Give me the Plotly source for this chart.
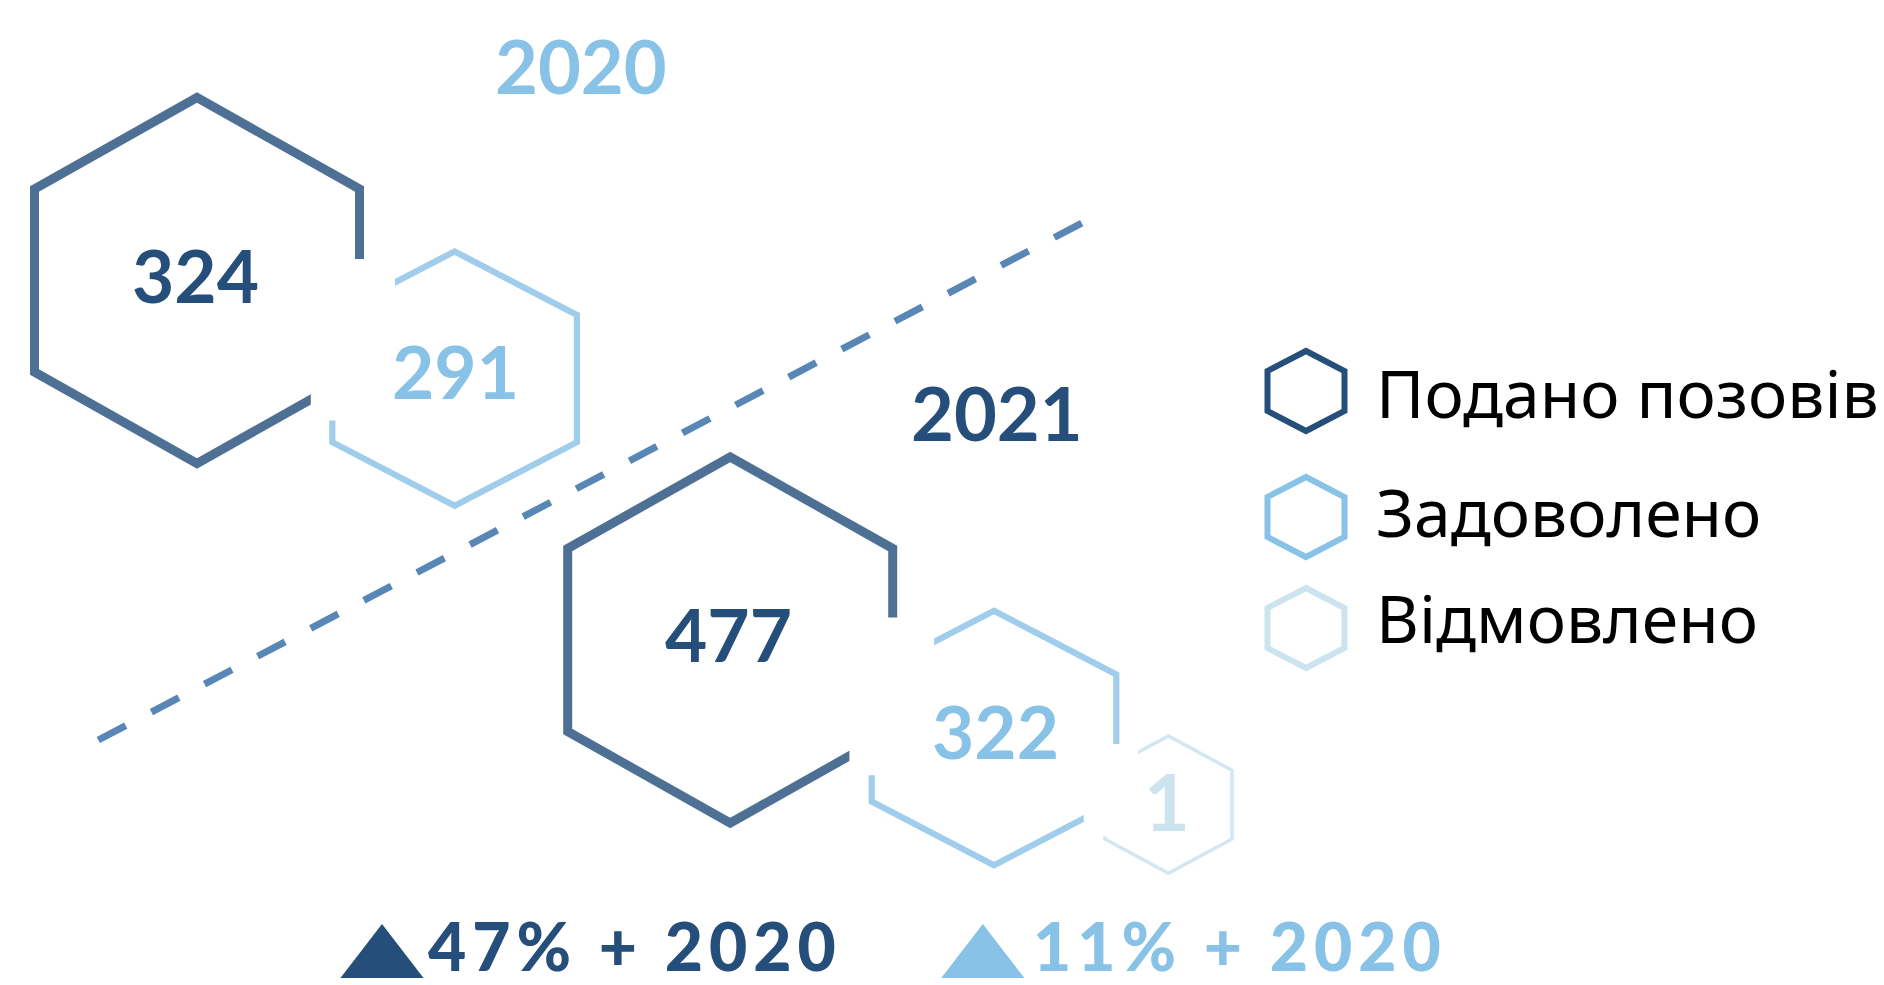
import plotly.graph_objects as go

# ---------------- data ----------------
years = ["2020", "2021"]
filed = [324, 477]            # Подано позовів
satisfied = [291, 322]        # Задоволено
refused = [None, 1]           # Відмовлено (no hexagon for 2020)
growth_pct = [47, 11]         # growth vs base year: filed, satisfied
growth_base = "2020"
legend_labels = ["Подано позовів", "Задоволено", "Відмовлено"]

# ---------------- style / layout ----------------
W, H = 1884, 985
C_DARK = "#264e7a"
C_DARK_LINE = "#4f7095"
C_MID = "#88c2e6"
C_MID_LINE = "#9fcdeb"
C_LIGHT = "#cce3f0"
C_LIGHT_LINE = "#d3e6f3"
C_DASH = "#5886b5"
NUM_FONT = "Lato"
LEG_FONT = "Noto Sans"

# hexagon geometry: (half-height, half-width, stroke width)
HEX_BIG = (183.0, 162.5, 9)
HEX_MID = (127.2, 122.3, 6.2)
HEX_SMALL = (68.7, 63.6, 3.5)
HEX_LEG = (40.0, 38.5, 6)

big_centres = [(197.0, 280.5), (730.2, 640.0)]
mid_centres = [(454.6, 378.6), (994.0, 738.0)]
small_centres = [None, (1168.4, 804.6)]
# white gaps where the hexagons touch: (x0, x1, y0, y1)
gaps = [(310.8, 395.0, 259.0, 420.5),
        (849.4, 934.2, 617.6, 775.2),
        (1083.8, 1138.2, 743.9, 836.3)]
year_label_pos = [(580.5, 65.0), (996.5, 412.5)]
dash_line = (98.3, 740.0, 1083.0, 222.4)
legend_x, legend_text_x = 1306.0, 1373.5
legend_y = [391.0, 517.0, 628.0]
legend_text_y = [391.5, 510.5, 617.0]
legend_colors = [C_DARK, C_MID, C_LIGHT]
growth_tri_x = [382.0, 982.8]
growth_text_x = [426.0, 1031.0]
growth_y = 960.0
growth_text_y = 945.0
growth_colors = [C_DARK, C_MID]


def hexagon(cx, cy, R, Wd):
    xs = [cx - Wd, cx - Wd, cx, cx + Wd, cx + Wd, cx, cx - Wd, cx - Wd]
    ys = [cy, cy - R / 2, cy - R, cy - R / 2, cy + R / 2, cy + R, cy + R / 2, cy]
    return xs, ys


fig = go.Figure()


def add_hex(centre, geom, color):
    R, Wd, lw = geom
    xs, ys = hexagon(centre[0], centre[1], R, Wd)
    fig.add_trace(go.Scatter(x=xs, y=ys, mode="lines",
                             line=dict(color=color, width=lw),
                             hoverinfo="skip", showlegend=False))


# dashed divider line
fig.add_shape(type="line", x0=dash_line[0], y0=dash_line[1], x1=dash_line[2], y1=dash_line[3],
              line=dict(color=C_DASH, width=7, dash="31px,29px"), layer="below")

for i, yr in enumerate(years):
    add_hex(big_centres[i], HEX_BIG, C_DARK_LINE)
    add_hex(mid_centres[i], HEX_MID, C_MID_LINE)
    if refused[i] is not None:
        add_hex(small_centres[i], HEX_SMALL, C_LIGHT_LINE)

for i in range(3):
    add_hex((legend_x, legend_y[i]), HEX_LEG, legend_colors[i])

# white gaps between touching hexagons
for g in gaps:
    fig.add_shape(type="rect", x0=g[0], x1=g[1], y0=g[2], y1=g[3],
                  fillcolor="white", line=dict(width=0), layer="above")

# growth triangles
fig.add_trace(go.Scatter(x=growth_tri_x, y=[growth_y] * 2, mode="markers",
                         marker=dict(symbol="triangle-up", size=72, color=growth_colors,
                                     line=dict(width=0)),
                         hoverinfo="skip", showlegend=False))


def label(x, y, text, size, color, family=NUM_FONT, weight=700, xanchor="center"):
    fig.add_annotation(x=x, y=y, text=text, showarrow=False, xanchor=xanchor, yanchor="middle",
                       font=dict(family=family, size=size, color=color, weight=weight))


for i, yr in enumerate(years):
    label(year_label_pos[i][0], year_label_pos[i][1], yr, 74, C_MID if i == 0 else C_DARK)
    bx, by = big_centres[i]
    label(bx - 2, by - 6, str(filed[i]), 73, C_DARK)
    mx, my = mid_centres[i]
    label(mx + 1, my - 7.5, str(satisfied[i]), 73, C_MID)
    if refused[i] is not None:
        sx, sy = small_centres[i]
        label(sx - 1, sy - 4.5, str(refused[i]), 79, C_LIGHT)

for i, lab in enumerate(legend_labels):
    label(legend_text_x, legend_text_y[i], lab, 66, "#000000", family=LEG_FONT, weight=400,
          xanchor="left")

for i in range(2):
    txt = f"<span style='letter-spacing:6px'>{growth_pct[i]}% + {growth_base}</span>"
    label(growth_text_x[i], growth_text_y, txt, 66, growth_colors[i], weight=900, xanchor="left")

fig.update_layout(
    width=W, height=H, margin=dict(l=0, r=0, t=0, b=0, pad=0),
    paper_bgcolor="white", plot_bgcolor="white",
    xaxis=dict(range=[0, W], visible=False, fixedrange=True),
    yaxis=dict(range=[H, 0], visible=False, fixedrange=True),
    showlegend=False,
)

fig.write_html("out.html", config={"displayModeBar": False},
               post_script="document.body.style.margin='0px';document.body.style.overflow='hidden';")
